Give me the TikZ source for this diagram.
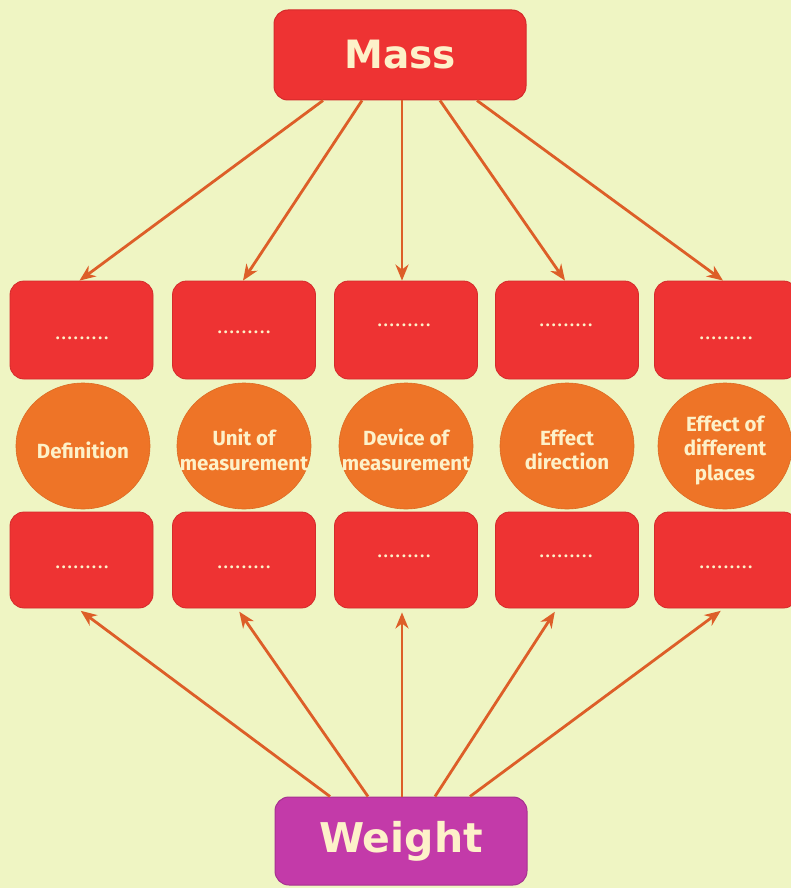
\documentclass[tikz,border=0pt]{standalone}
\usepackage{fontspec}
\setmainfont{Fira Sans}
\newfontfamily\titlefont{DejaVu Sans}
\newfontfamily\dotfont[LetterSpace=14]{Fira Sans}
\usetikzlibrary{arrows.meta,shapes.geometric}
\definecolor{bgc}{HTML}{EFF5C3}
\definecolor{boxred}{HTML}{EE3333}
\definecolor{redline}{HTML}{D42B2B}
\definecolor{circorange}{HTML}{EE7427}
\definecolor{magentac}{HTML}{C33AA9}
\definecolor{arrowc}{HTML}{DD5E28}
\definecolor{cream}{HTML}{FDF1C9}
\tikzset{
  titlebox/.style={draw=redline, line width=1pt, fill=boxred, rounded corners=14pt,
    minimum width=252pt, minimum height=90pt, inner sep=0pt, text=cream,
    font=\titlefont\bfseries\fontsize{39}{44}\selectfont},
  smallbox/.style={draw=redline, line width=0.8pt, fill=boxred, rounded corners=14pt,
    minimum width=143pt, minimum height=98pt, inner sep=0pt},
  dotstext/.style={text=cream, inner sep=0pt, font=\dotfont\bfseries\fontsize{16}{18}\selectfont},
  circ/.style={ellipse, fill=circorange, draw=circorange!92!black, line width=0.6pt,
    minimum width=134pt, minimum height=126pt, inner sep=0pt},
  circtext/.style={align=center, text=cream, inner sep=0pt, yshift=-4pt,
    font=\bfseries\fontsize{20.5}{24.5}\selectfont},
  arr/.style={draw=arrowc, line width=2.8pt, -{Stealth[length=16pt,width=13pt,inset=5pt]}}
}
\begin{document}
\begin{tikzpicture}[x=1pt,y=-1pt]
\fill[bgc] (0,0) rectangle (791,888);
\useasboundingbox (0,0) rectangle (791,888);

% title nodes
\node[titlebox] (mass) at (400,55) {Mass};
\node[titlebox, fill=magentac, draw=magentac!85!black, minimum height=88pt,
      font=\titlefont\bfseries\fontsize{41}{46}\selectfont] (weight) at (401,841) {Weight};

% top row boxes
\node[smallbox] (t1) at (81.5,330) {};
\node[smallbox] (t2) at (244,330) {};
\node[smallbox] (t3) at (406,330) {};
\node[smallbox] (t4) at (567,330) {};
\node[smallbox] (t5) at (726,330) {};
\node[dotstext] (t1d) at (82,338) {.........};
\node[dotstext] (t2d) at (244,332) {.........};
\node[dotstext] (t3d) at (404,325) {.........};
\node[dotstext] (t4d) at (566,325) {.........};
\node[dotstext] (t5d) at (726,338) {.........};

% circles
\node[circ, label={[circtext]center:Definition}] (c1) at (83,446) {};
\node[circ, label={[circtext]center:Unit of\\measurement}] (c2) at (244,446) {};
\node[circ, label={[circtext]center:Device of\\measurement}] (c3) at (406,446) {};
\node[circ, label={[circtext]center:Effect\\direction}] (c4) at (567,446) {};
\node[circ, label={[circtext]center:Effect of\\different\\places}] (c5) at (725,446) {};

% bottom row boxes
\node[smallbox, minimum height=96pt] (b1) at (81.5,560) {};
\node[smallbox, minimum height=96pt] (b2) at (244,560) {};
\node[smallbox, minimum height=96pt] (b3) at (406,560) {};
\node[smallbox, minimum height=96pt] (b4) at (567,560) {};
\node[smallbox, minimum height=96pt] (b5) at (726,560) {};
\node[dotstext] (b1d) at (82,567) {.........};
\node[dotstext] (b2d) at (244,567) {.........};
\node[dotstext] (b3d) at (404,556) {.........};
\node[dotstext] (b4d) at (566,556) {.........};
\node[dotstext] (b5d) at (726,567) {.........};

% arrows from Mass
\draw[arr] ([xshift=-77pt]mass.south) -- ([xshift=-2pt]t1.north);
\draw[arr] ([xshift=-38pt]mass.south) -- ([xshift=-1pt]t2.north);
\draw[arr] ([xshift=2pt]mass.south) -- ([xshift=-4pt]t3.north);
\draw[arr] ([xshift=40pt]mass.south) -- ([xshift=-2pt]t4.north);
\draw[arr] ([xshift=77pt]mass.south) -- ([xshift=-3pt]t5.north);

% arrows from Weight
\draw[arr, shorten >=4pt] ([xshift=-71pt]weight.north) -- ([xshift=-4pt]b1.south);
\draw[arr, shorten >=4pt] ([xshift=-33pt]weight.north) -- ([xshift=-7pt]b2.south);
\draw[arr, shorten >=4pt] ([xshift=1pt]weight.north) -- ([xshift=-4pt]b3.south);
\draw[arr, shorten >=4pt] ([xshift=34pt]weight.north) -- ([xshift=-10pt]b4.south);
\draw[arr, shorten >=4pt] ([xshift=69pt]weight.north) -- ([xshift=-2pt]b5.south);
\end{tikzpicture}
\end{document}
